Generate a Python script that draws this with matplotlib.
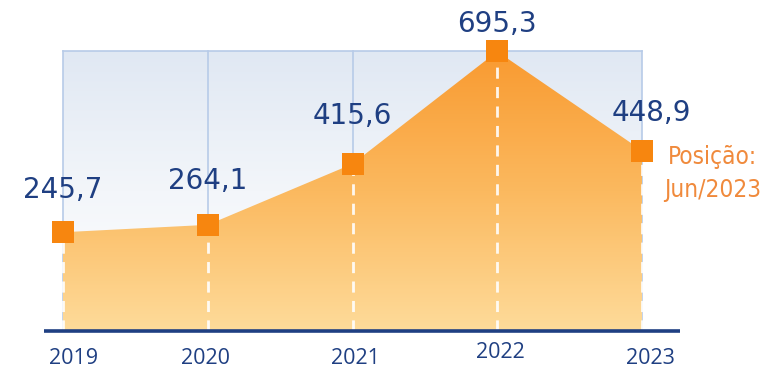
import numpy as np
import matplotlib.pyplot as plt
from matplotlib.colors import LinearSegmentedColormap
from matplotlib.patches import Polygon

# Dados da série
anos = ['2019', '2020', '2021', '2022', '2023']
valores = [245.7, 264.1, 415.6, 695.3, 448.9]
rotulos = ['245,7', '264,1', '415,6', '695,3', '448,9']
nota = 'Posição:\nJun/2023'

azul = '#1f3f82'
laranja = '#f7860f'

fig = plt.figure(figsize=(7.79, 3.68), dpi=100)
ax = fig.add_axes([0, 0, 1, 1])
px_x = 144.75
px_y = 0.402
ax.set_xlim(-63 / px_x, (779 - 63) / px_x)
ax.set_ylim(-37 / px_y, (368 - 37) / px_y)
ax.axis('off')

x = np.arange(len(valores))
vmax = max(valores)

# Fundo azulado em degradê
fundo = LinearSegmentedColormap.from_list('fundo', ['#ffffff', '#f3f6fa', '#e0e8f3'])
grad = np.linspace(0, 1, 256).reshape(-1, 1)
ax.imshow(grad, cmap=fundo, origin='lower', aspect='auto',
          extent=[x[0], x[-1], 0, vmax], zorder=0)
for xi in x:
    ax.plot([xi, xi], [0, vmax], color='#b7cbe8', lw=1.2, zorder=1)
ax.plot([x[0], x[-1]], [vmax, vmax], color='#b7cbe8', lw=1.2, zorder=1)

# Área laranja em degradê
verts = [(x[0], 0)] + list(zip(x, valores)) + [(x[-1], 0)]
poly = Polygon(verts, closed=True, facecolor='none', edgecolor='none')
ax.add_patch(poly)
area = LinearSegmentedColormap.from_list('area', ['#fedb9a', '#fbb95f', '#f99a30'])
img = ax.imshow(grad, cmap=area, origin='lower', aspect='auto',
                extent=[x[0], x[-1], 0, vmax], zorder=2)
img.set_clip_path(poly)

# Linhas tracejadas brancas
for xi, v in zip(x, valores):
    ax.plot([xi, xi], [0, v], color='white', lw=2, ls=(0, (4, 3)),
            alpha=0.9, zorder=3)

# Linha de base
ax.plot([-0.13, 4.26], [0, 0], color=azul, lw=2.6, zorder=4,
        solid_capstyle='butt')

ax.plot(x, valores, ls='none', marker='s', ms=16, color=laranja,
        markeredgewidth=0, zorder=5)

deslocamentos = [(0, 25), (0, 26), (0, 29), (0, 14), (7, 21)]
for xi, v, r, d in zip(x, valores, rotulos, deslocamentos):
    ax.annotate(r, (xi, v), xytext=d, textcoords='offset points',
                ha='center', va='baseline', fontsize=20, color=azul,
                family='DejaVu Sans')

ax.annotate(nota, (x[-1], valores[-1]), xytext=(51, 4),
            textcoords='offset points', ha='center', va='top',
            fontsize=17.5, color='#f08a3c', linespacing=1.45,
            family='DejaVu Sans', fontstretch='condensed')

anos_px = [74, 206, 355, 500, 650]
anos_y = [-27, -27, -27, -21, -27]
for a, xp, yp in zip(anos, anos_px, anos_y):
    ax.text((xp - 63) / px_x, yp / px_y, a, ha='center', va='center',
            fontsize=15.5, color=azul, family='Open Sans')

fig.savefig('out.png', dpi=100)
